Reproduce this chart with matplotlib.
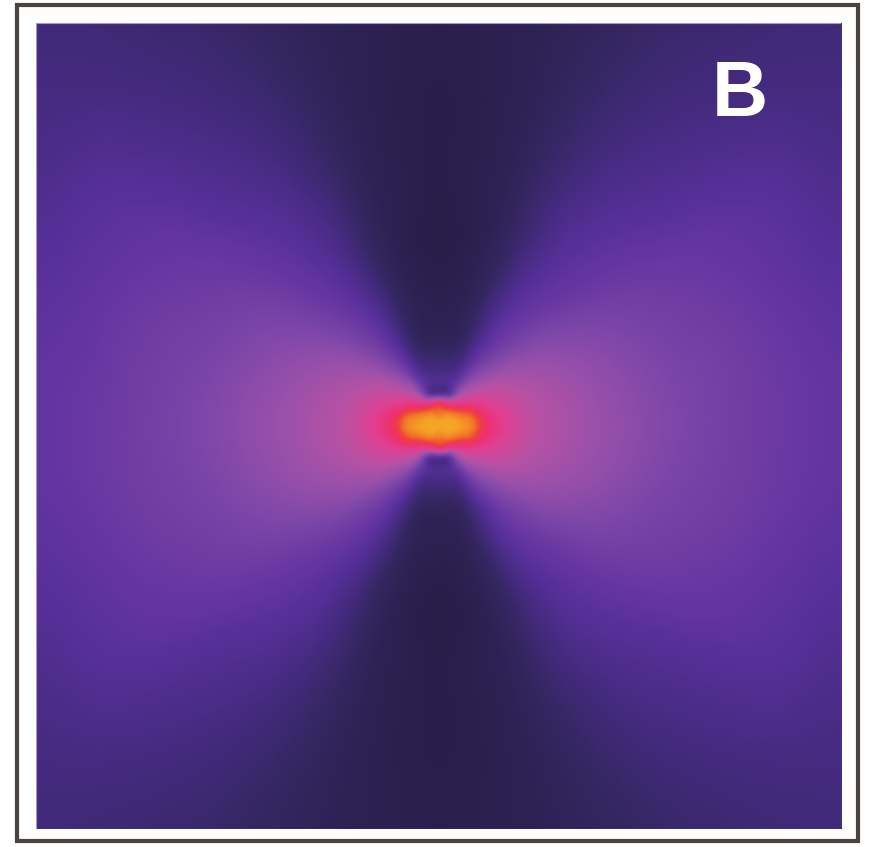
import numpy as np
import matplotlib
matplotlib.use("Agg")
import matplotlib.pyplot as plt
import matplotlib.tri as mtri
from matplotlib.colors import LinearSegmentedColormap
from matplotlib.patches import Rectangle

# near-field intensity (normalised 0..1) sampled along rays from the rod centre,
# first quadrant only; the other three quadrants are mirror images
angles_deg = [0, 20, 35, 45, 55, 62, 68, 74, 80, 85, 90]
radii = [0.03, 0.06, 0.085, 0.11, 0.15, 0.22, 0.3, 0.45, 0.6, 0.8, 1.0, 1.2, 1.45]
center_level = 1.0
levels = [
    [1.00, 1.00, 0.99, 0.98, 0.97, 0.96, 0.95, 0.94, 0.94, 0.94, 0.94],  # r = 0.03
    [0.98, 0.95, 0.91, 0.88, 0.85, 0.83, 0.82, 0.81, 0.81, 0.81, 0.81],  # r = 0.06
    [0.94, 0.91, 0.85, 0.80, 0.72, 0.62, 0.50, 0.40, 0.34, 0.33, 0.33],  # r = 0.085
    [0.88, 0.85, 0.79, 0.74, 0.66, 0.56, 0.47, 0.40, 0.37, 0.36, 0.36],  # r = 0.11
    [0.82, 0.79, 0.74, 0.67, 0.58, 0.48, 0.38, 0.31, 0.29, 0.28, 0.28],  # r = 0.15
    [0.74, 0.72, 0.67, 0.60, 0.50, 0.40, 0.30, 0.20, 0.15, 0.13, 0.13],  # r = 0.22
    [0.69, 0.67, 0.62, 0.55, 0.46, 0.37, 0.27, 0.17, 0.10, 0.08, 0.08],  # r = 0.3
    [0.62, 0.60, 0.55, 0.48, 0.40, 0.32, 0.22, 0.13, 0.06, 0.04, 0.03],  # r = 0.45
    [0.56, 0.54, 0.50, 0.44, 0.37, 0.30, 0.22, 0.12, 0.07, 0.05, 0.04],  # r = 0.6
    [0.50, 0.49, 0.45, 0.38, 0.32, 0.26, 0.20, 0.12, 0.07, 0.05, 0.04],  # r = 0.8
    [0.45, 0.42, 0.40, 0.34, 0.28, 0.23, 0.18, 0.12, 0.08, 0.06, 0.05],  # r = 1.0
    [0.42, 0.39, 0.33, 0.30, 0.25, 0.21, 0.16, 0.10, 0.07, 0.05, 0.04],  # r = 1.2
    [0.40, 0.37, 0.30, 0.27, 0.23, 0.19, 0.14, 0.09, 0.06, 0.04, 0.04],  # r = 1.45
]

cmap_stops = [0.00, 0.10, 0.20, 0.30, 0.40, 0.48, 0.56, 0.64, 0.72, 0.80, 0.86, 0.90, 0.94, 1.00]
cmap_colors = ["#281d46", "#2d2254", "#352762", "#452b80", "#58309a", "#6a38a2", "#7c46a8",
               "#9850aa", "#b852a4", "#e04092", "#ee3070", "#f0403a", "#f27a26", "#f6a626"]
field_cmap = LinearSegmentedColormap.from_list("field", list(zip(cmap_stops, cmap_colors)))

ang = np.array(angles_deg, dtype=float)
lev = np.array(levels)
full_ang = np.concatenate([ang, 180 - ang[-2::-1], 180 + ang[1:], 360 - ang[-2:0:-1]])
full_lev = np.concatenate([lev, lev[:, -2::-1], lev[:, 1:], lev[:, -2:0:-1]], axis=1)

rr, aa = np.meshgrid(radii, np.deg2rad(full_ang), indexing="ij")
x = np.append((rr * np.cos(aa)).ravel(), 0.0)
y = np.append((rr * np.sin(aa)).ravel(), 0.0)
c = np.append(full_lev.ravel(), center_level)

# smooth cubic surface through the samples, rasterised for imshow
tri = mtri.Triangulation(x, y)
interp = mtri.CubicTriInterpolator(tri, c, kind="geom")
gx, gy = np.meshgrid(np.linspace(-1, 1, 403), np.linspace(-1, 1, 403))
field = np.clip(np.ma.filled(interp(gx, gy), 0.0), 0, 1)

W, H = 869, 847
fig = plt.figure(figsize=(W / 100, H / 100), dpi=100)
ax = fig.add_axes([36 / W, (H - 829) / H, (841 - 36) / W, (829 - 23) / H])
ax.imshow(field, extent=(-1, 1, -1, 1), origin="lower", cmap=field_cmap,
          vmin=0, vmax=1, interpolation="bicubic", aspect="auto")
ax.set_xlim(-1, 1)
ax.set_ylim(-1, 1)
ax.axis("off")

ax.add_patch(Rectangle((0, 0), 1, 1, transform=ax.transAxes, fill=False,
                       ec="#a596c8", lw=0.8, zorder=5))
ax.text(0.874, 0.884, "B", transform=ax.transAxes, ha="center", va="baseline",
        color="white", fontsize=56, fontweight="bold", family="Liberation Sans")

# outer frame
fig.add_artist(Rectangle((17 / W, 6 / H), (858 - 17) / W, (841 - 5) / H,
                         transform=fig.transFigure, fill=False, ec="#4b443e", lw=3))

fig.savefig("out.png", dpi=100, facecolor="white")
